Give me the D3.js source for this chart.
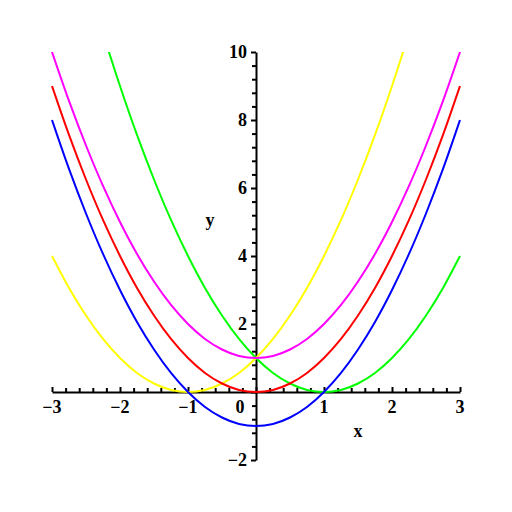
<!DOCTYPE html>
<html>
<head>
<meta charset="utf-8">
<title>parabolas</title>
<style>
body{margin:0;background:#fff}
text{font-family:"Liberation Serif","DejaVu Serif",serif;font-weight:bold;font-size:18px}
</style>
</head>
<body>
<svg width="512" height="512"></svg>
<script src="https://d3js.org/d3.v7.min.js"></script>
<script>
// sample points
var xs = [-3,-2.75,-2.5,-2.25,-2,-1.75,-1.5,-1.25,-1,-0.75,-0.5,-0.25,0,0.25,0.5,0.75,1,1.25,1.5,1.75,2,2.25,2.5,2.75,3];
var red     = [9,7.56,6.25,5.06,4,3.06,2.25,1.56,1,0.56,0.25,0.06,0,0.06,0.25,0.56,1,1.56,2.25,3.06,4,5.06,6.25,7.56,9];
var magenta = [10,8.56,7.25,6.06,5,4.06,3.25,2.56,2,1.56,1.25,1.06,1,1.06,1.25,1.56,2,2.56,3.25,4.06,5,6.06,7.25,8.56,10];
var blue    = [8,6.56,5.25,4.06,3,2.06,1.25,0.56,0,-0.44,-0.75,-0.94,-1,-0.94,-0.75,-0.44,0,0.56,1.25,2.06,3,4.06,5.25,6.56,8];
var yellow  = [4,3.06,2.25,1.56,1,0.56,0.25,0.06,0,0.06,0.25,0.56,1,1.56,2.25,3.06,4,5.06,6.25,7.56,9,10.56,12.25,14.06,16];
var green   = [16,14.06,12.25,10.56,9,7.56,6.25,5.06,4,3.06,2.25,1.56,1,0.56,0.25,0.06,0,0.06,0.25,0.56,1,1.56,2.25,3.06,4];

var xTicks = [-3,-2,-1,0,1,2,3];
var yTicks = [-2,2,4,6,8,10];

var series = [
  {c:"#ffff00", v:yellow},
  {c:"#00ff00", v:green},
  {c:"#ff0000", v:red},
  {c:"#ff00ff", v:magenta},
  {c:"#0000ff", v:blue}
];

var svg = d3.select("svg");
var x = d3.scaleLinear().domain([-3,3]).range([52,460]);
var y = d3.scaleLinear().domain([-2,10]).range([460,52]);

svg.append("clipPath").attr("id","clip")
  .append("rect").attr("x",x(-3)-2).attr("y",y(10)).attr("width",x(3)-x(-3)+4).attr("height",y(-2)-y(10));

var line = d3.line().curve(d3.curveMonotoneX)
  .x(function(d,i){return x(xs[i]);}).y(function(d){return y(d);});

// minor ticks
var xMinor = d3.range(-3,3.001,0.2).map(function(d){return +d.toFixed(2);});
var yMinor = d3.range(-2,10.001,0.4).map(function(d){return +d.toFixed(2);});

var gx = svg.append("g").attr("transform","translate(0,"+y(0)+")");
gx.call(d3.axisBottom(x).tickValues(xMinor).tickSize(-4).tickSizeOuter(0).tickFormat(""));
gx.call(function(g){
  g.selectAll(".tick").filter(function(d){return Math.abs(d-Math.round(d))<1e-6;}).select("line").attr("y2",-5);
});
var gy = svg.append("g").attr("transform","translate("+x(0)+",0)");
gy.call(d3.axisLeft(y).tickValues(yMinor).tickSize(4).tickSizeOuter(0).tickFormat(""));
gy.call(function(g){
  g.selectAll(".tick").filter(function(d){return Math.abs(d/2-Math.round(d/2))<1e-6;}).select("line").attr("x2",-5);
});
svg.selectAll(".domain, .tick line").attr("stroke","#000").attr("stroke-width",2);

function lab(v){ return (v<0?"\u2212":"")+Math.abs(v); }

svg.append("g").selectAll("text").data(xTicks).join("text")
  .attr("x",function(d){return d===0 ? x(0)-16 : x(d);})
  .attr("y",y(0)+21)
  .attr("text-anchor","middle")
  .text(lab);

svg.append("g").selectAll("text").data(yTicks).join("text")
  .attr("x",x(0)-9)
  .attr("y",function(d){return y(d)+6;})
  .attr("text-anchor","end")
  .text(lab);

svg.append("text").attr("x",358).attr("y",437).attr("text-anchor","middle").text("x");
svg.append("text").attr("x",210).attr("y",226).attr("text-anchor","middle").text("y");

svg.append("g").attr("clip-path","url(#clip)").selectAll("path").data(series).join("path")
  .attr("fill","none")
  .attr("stroke",function(d){return d.c;})
  .attr("stroke-width",2)
  .attr("d",function(d){return line(d.v);});
</script>
</body>
</html>
